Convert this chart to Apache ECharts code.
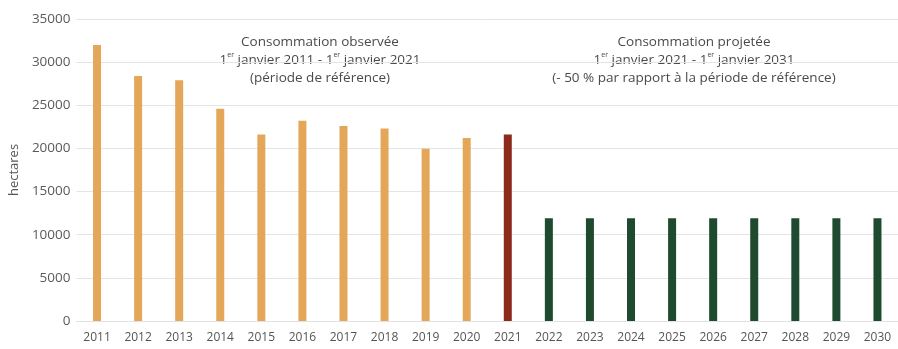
<!DOCTYPE html>
<html>
<head>
<meta charset="utf-8">
<script src="https://cdn.jsdelivr.net/npm/echarts@6/dist/echarts.min.js"></script>
<style>
  html, body { margin: 0; padding: 0; background: #ffffff; }
  #chart { width: 898px; height: 349px; }
</style>
</head>
<body>
<div id="chart"></div>
<script>
// Years on the category axis
const years = ['2011', '2012', '2013', '2014', '2015', '2016', '2017', '2018', '2019', '2020',
               '2021', '2022', '2023', '2024', '2025', '2026', '2027', '2028', '2029', '2030'];

// Observed consumption (hectares), 2011-2020
const observed = [32000, 28400, 27900, 24600, 21600, 23200, 22600, 22300, 19950, 21200];
// Year 2021 (start of the projected decade)
const year2021 = [21600];
// Projected consumption (hectares), 2022-2030
const projected = [11900, 11900, 11900, 11900, 11900, 11900, 11900, 11900, 11900];

// Y-axis tick values
const yTicks = [0, 5000, 10000, 15000, 20000, 25000, 30000, 35000];

const colObserved = '#e4a75a';
const col2021 = '#8c2a1b';
const colProjected = '#1e4a2f';

const barData = [];
observed.forEach(v => barData.push({ value: v, itemStyle: { color: colObserved } }));
year2021.forEach(v => barData.push({ value: v, itemStyle: { color: col2021 } }));
projected.forEach(v => barData.push({ value: v, itemStyle: { color: colProjected } }));

const font = 'Open Sans';
const textColor = '#4a4a4a';

const chart = echarts.init(document.getElementById('chart'), null, { renderer: 'canvas' });

const richStyle = {
  sup: { fontSize: 7, verticalAlign: 'top', padding: [0, 0, 8, 0], fill: textColor, fontFamily: font },
};

function annotation(x, text) {
  return {
    type: 'text',
    x: x, y: 33,
    style: {
      text: text,
      rich: richStyle,
      fill: textColor,
      font: '13.5px "' + font + '"',
      align: 'center',
      lineHeight: 18,
    },
  };
}

chart.setOption({
  animation: false,
  backgroundColor: '#ffffff',
  grid: { left: 75, right: -6, top: 19, bottom: 28, containLabel: false },
  xAxis: {
    type: 'category',
    data: years,
    axisLine: { show: true, lineStyle: { color: '#e2e2e2', width: 1 } },
    axisTick: { show: false },
    axisLabel: { color: '#555555', fontFamily: font, fontSize: 12, margin: 11 },
  },
  yAxis: {
    type: 'value',
    min: yTicks[0],
    max: yTicks[yTicks.length - 1],
    interval: 5000,
    name: 'hectares',
    nameLocation: 'middle',
    nameGap: 47,
    nameTextStyle: { color: '#555555', fontFamily: font, fontSize: 13 },
    axisLine: { show: false },
    axisTick: { show: false },
    axisLabel: {
      color: '#5a5a5a', fontFamily: font, fontSize: 13.5, margin: 6,
      formatter: v => String(v),
    },
    splitLine: { lineStyle: { color: '#e4e4e4', width: 1 } },
  },
  series: [{
    type: 'bar',
    data: barData,
    barWidth: 8,
  }],
  graphic: [
    annotation(320, 'Consommation observée\n1{sup|er} janvier 2011 - 1{sup|er} janvier 2021\n(période de référence)'),
    annotation(694, 'Consommation projetée\n1{sup|er} janvier 2021 - 1{sup|er} janvier 2031\n(- 50 % par rapport à la période de référence)'),
  ],
});
</script>
</body>
</html>
